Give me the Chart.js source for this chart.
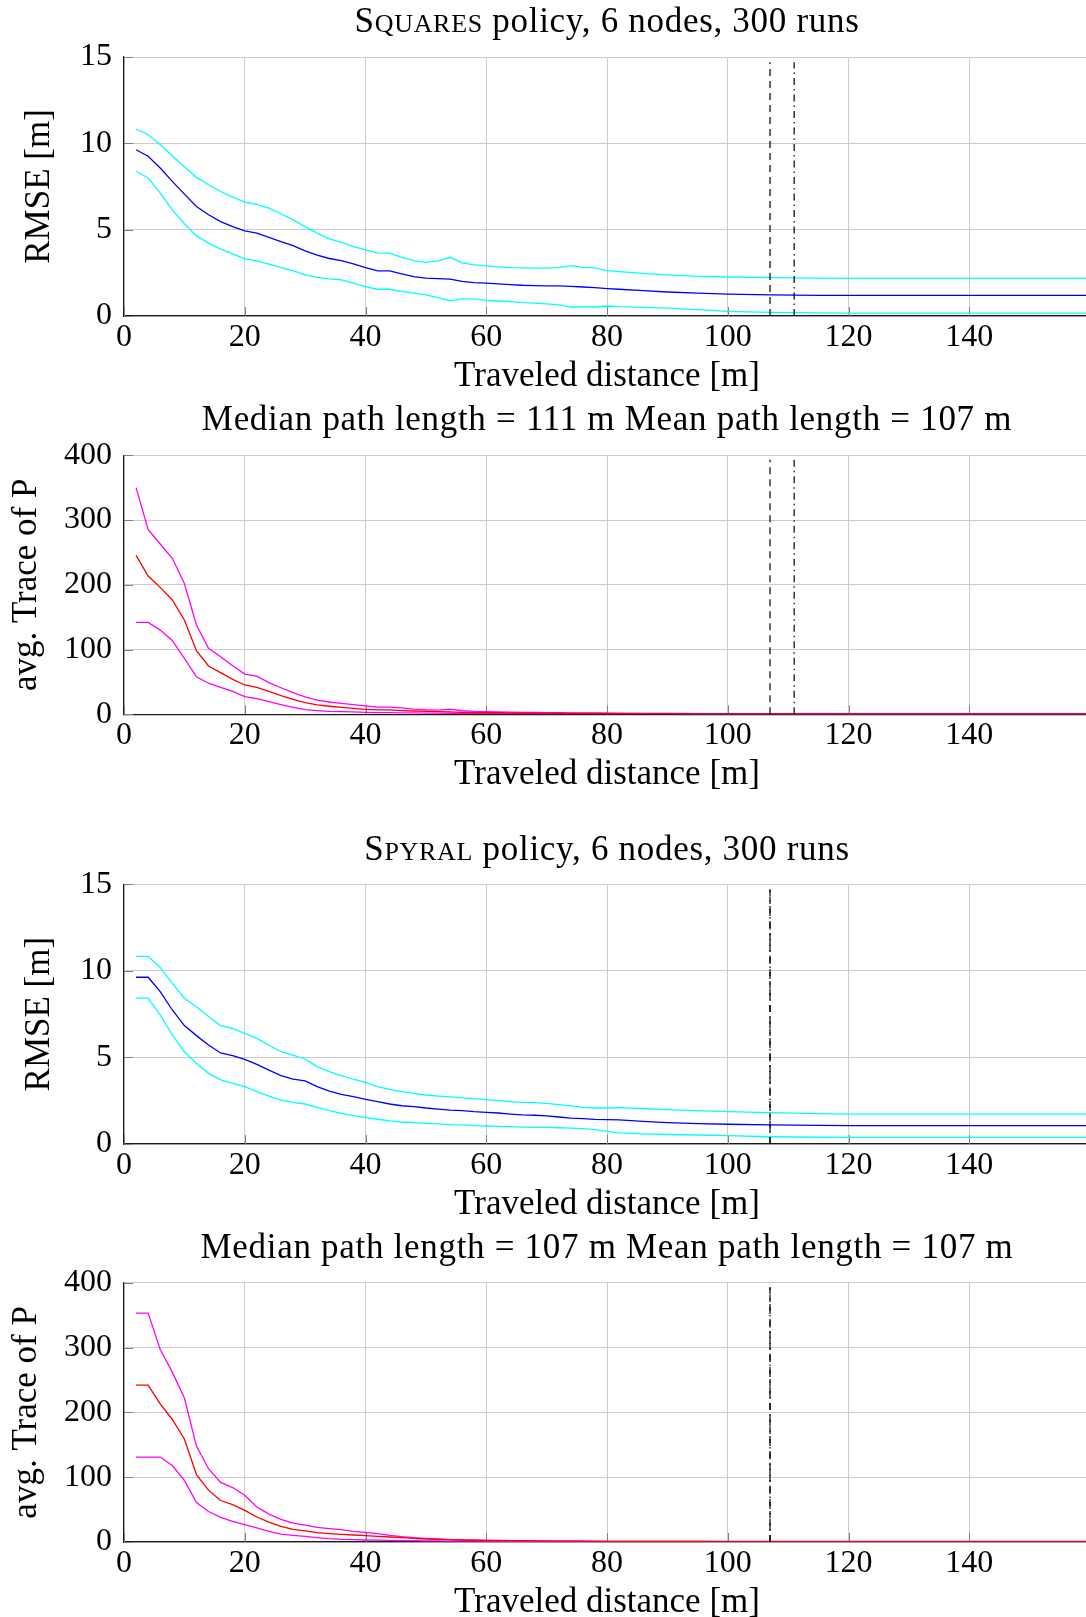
<!DOCTYPE html>
<html>
<head>
<meta charset="utf-8">
<script src="https://cdn.jsdelivr.net/npm/chart.js@4.4.1/dist/chart.umd.min.js"></script>
<style>
  html, body { margin: 0; padding: 0; background: #fff; overflow: hidden; width: 1086px; height: 1617px; }
  .panel { position: absolute; left: 0; width: 1090px; }
</style>
</head>
<body>
<div class="panel" style="top:0px;height:400px"><canvas id="sqRmse" width="1090" height="400"></canvas></div>
<div class="panel" style="top:400px;height:400px"><canvas id="sqTrace" width="1090" height="400"></canvas></div>
<div class="panel" style="top:800px;height:425px"><canvas id="spRmse" width="1090" height="425"></canvas></div>
<div class="panel" style="top:1225px;height:400px"><canvas id="spTrace" width="1090" height="400"></canvas></div>
<script>
// traveled distance [m] (x of every sample)
const distance = [2, 4, 6, 8, 10, 12, 14, 16, 18, 20, 22, 24, 26, 28, 30, 32, 34, 36, 38, 40,
    42, 44, 46, 48, 50, 52, 54, 56, 58, 60, 62, 64, 66, 68, 70, 72, 74, 76, 78, 80, 82,
    86, 90, 95, 100, 107, 115, 120, 140, 160];

const xTicks = [0, 20, 40, 60, 80, 100, 120, 140];
const rmseTicks = [0, 5, 10, 15];
const traceTicks = [0, 100, 200, 300, 400];

// Squares policy
const sqRmseUpper = [10.83, 10.5, 9.92, 9.28, 8.63, 8.03, 7.6, 7.21, 6.89, 6.6,
    6.46, 6.25, 5.92, 5.57, 5.18, 4.8, 4.47, 4.27, 4.02, 3.83,
    3.66, 3.64, 3.4, 3.21, 3.11, 3.19, 3.4, 3.08, 2.96, 2.9,
    2.84, 2.8, 2.79, 2.77, 2.77, 2.8, 2.92, 2.82, 2.79, 2.63, 2.57,
    2.47, 2.38, 2.3, 2.26, 2.22, 2.19, 2.18, 2.18, 2.18];
const sqRmseMean = [9.63, 9.25, 8.57, 7.8, 7.06, 6.34, 5.86, 5.47, 5.18, 4.93,
    4.8, 4.56, 4.31, 4.08, 3.77, 3.52, 3.33, 3.21, 3.02, 2.8,
    2.61, 2.61, 2.44, 2.28, 2.19, 2.17, 2.13, 2.01, 1.93, 1.9,
    1.86, 1.82, 1.78, 1.76, 1.74, 1.74, 1.72, 1.68, 1.64, 1.59, 1.55,
    1.47, 1.39, 1.32, 1.27, 1.22, 1.2, 1.2, 1.2, 1.2];
const sqRmseLower = [8.38, 7.99, 7.12, 6.15, 5.34, 4.64, 4.22, 3.87, 3.6, 3.31,
    3.19, 3.0, 2.8, 2.63, 2.38, 2.24, 2.15, 2.09, 1.9, 1.7,
    1.55, 1.55, 1.43, 1.33, 1.22, 1.06, 0.89, 0.99, 0.99, 0.91,
    0.87, 0.83, 0.77, 0.74, 0.7, 0.64, 0.52, 0.54, 0.52, 0.58, 0.54,
    0.5, 0.46, 0.37, 0.27, 0.21, 0.18, 0.17, 0.17, 0.17];

const sqTraceUpper = [350, 285, 263, 241, 202, 138, 102, 89, 75, 62,
    59, 49, 41, 33.5, 27, 22, 19, 17, 15, 13,
    11, 11, 10, 8, 7, 6.5, 8, 5.5, 4.5, 4,
    3.6, 3.3, 3.0, 2.8, 2.6, 2.4, 2.3, 2.1, 2.0, 1.8, 1.7,
    1.5, 1.3, 1.1, 1.0, 0.9, 0.85, 0.8, 0.8, 0.8];
const sqTraceMean = [245.5, 213.6, 196, 176.6, 145.7, 98.3, 74.6, 64.3, 54, 45.3,
    41.7, 35.5, 28.8, 23.2, 18, 14.4, 12.4, 10.8, 9.3, 7.7,
    6.7, 6.7, 5.7, 5.1, 4.6, 4.1, 3.6, 3.1, 2.6, 2.6,
    2.4, 2.2, 2.0, 1.9, 1.7, 1.6, 1.5, 1.4, 1.3, 1.2, 1.1,
    1.0, 0.9, 0.8, 0.7, 0.6, 0.55, 0.55, 0.55, 0.55];
const sqTraceLower = [142, 142, 130, 114, 86.5, 58, 48, 41.7, 35.5, 27.3,
    24.2, 19.6, 15, 10.8, 7.2, 5.7, 4.6, 4.1, 3.6, 3.1,
    2.7, 2.5, 2.3, 2.1, 1.9, 1.7, 1.6, 1.5, 1.4, 1.3,
    1.2, 1.1, 1.0, 0.9, 0.85, 0.8, 0.75, 0.7, 0.65, 0.6, 0.55,
    0.5, 0.45, 0.4, 0.35, 0.3, 0.3, 0.3, 0.3, 0.3];

// Spyral policy
const spRmseUpper = [10.84, 10.84, 10.2, 9.28, 8.42, 7.93, 7.36, 6.84, 6.68, 6.39,
    6.1, 5.72, 5.33, 5.14, 4.91, 4.47, 4.18, 3.95, 3.74, 3.56,
    3.31, 3.16, 3.02, 2.93, 2.83, 2.77, 2.72, 2.66, 2.62, 2.56,
    2.5, 2.45, 2.41, 2.39, 2.35, 2.27, 2.2, 2.12, 2.08, 2.08, 2.1,
    2.05, 1.99, 1.93, 1.87, 1.81, 1.76, 1.73, 1.73, 1.73];
const spRmseMean = [9.63, 9.63, 8.8, 7.74, 6.84, 6.26, 5.72, 5.26, 5.1, 4.89,
    4.6, 4.27, 3.95, 3.75, 3.64, 3.31, 3.06, 2.87, 2.73, 2.58,
    2.45, 2.31, 2.21, 2.16, 2.08, 2.02, 1.96, 1.93, 1.87, 1.83,
    1.79, 1.73, 1.68, 1.66, 1.62, 1.56, 1.5, 1.46, 1.42, 1.41, 1.39,
    1.31, 1.24, 1.18, 1.14, 1.1, 1.07, 1.06, 1.06, 1.06];
const spRmseLower = [8.42, 8.42, 7.45, 6.3, 5.33, 4.66, 4.08, 3.7, 3.5, 3.31,
    3.02, 2.77, 2.54, 2.41, 2.31, 2.12, 1.93, 1.77, 1.64, 1.54,
    1.43, 1.33, 1.27, 1.23, 1.19, 1.16, 1.12, 1.1, 1.06, 1.04,
    1.02, 1.0, 0.98, 0.96, 0.96, 0.94, 0.92, 0.89, 0.83, 0.73, 0.64,
    0.58, 0.55, 0.52, 0.48, 0.42, 0.39, 0.38, 0.38, 0.38];

const spTraceUpper = [353, 353, 297, 262, 222, 148, 113, 92, 84, 72,
    54, 43, 35, 29, 26, 22.6, 20.6, 19, 16.5, 15,
    12.9, 10.3, 8.2, 6.7, 5.7, 4.6, 3.6, 3.0, 2.6, 2.3,
    2.1, 1.9, 1.8, 1.7, 1.6, 1.5, 1.4, 1.3, 1.2, 1.1, 1.05,
    1.0, 0.95, 0.9, 0.85, 0.8, 0.8, 0.8, 0.8, 0.8];
const spTraceMean = [242, 242, 213, 189, 159, 104, 80, 64, 57.6, 48.8,
    38.6, 30.8, 24, 19.5, 17, 14.4, 12.9, 11.8, 10.8, 9.8,
    8.7, 7.7, 6.7, 5.7, 4.6, 4.1, 3.6, 3.1, 3.1, 2.6,
    2.3, 2.1, 1.9, 1.7, 1.5, 1.4, 1.3, 1.2, 1.1, 1.0, 0.95,
    0.9, 0.85, 0.8, 0.7, 0.6, 0.55, 0.55, 0.55, 0.55];
const spTraceLower = [131, 131, 131, 118, 95, 61, 47, 38, 32, 26.7,
    21.6, 16.5, 12.3, 10.3, 8.7, 6.7, 5.1, 4.1, 3.6, 3.1,
    2.8, 2.5, 2.2, 2.0, 1.8, 1.6, 1.5, 1.4, 1.3, 1.2,
    1.1, 1.0, 0.95, 0.9, 0.85, 0.8, 0.75, 0.7, 0.65, 0.6, 0.55,
    0.5, 0.45, 0.4, 0.35, 0.3, 0.3, 0.3, 0.3, 0.3];

// path lengths [m]: squares, spyral
const medianPath = [111, 107];
const meanPath = [107, 107];
const markerTop = { rmse: 14.7, trace: 393 };

const SERIF = "'Liberation Serif', 'Times New Roman', serif";
Chart.defaults.font.family = SERIF;
Chart.defaults.color = '#000';

const GRID = '#cccccc';
const AXIS = '#1a1a1a';

// small tick marks drawn on the inside of the axes, like pgfplots
const innerTicks = {
    id: 'innerTicks',
    beforeDatasetsDraw(chart) {
        const { ctx, chartArea: a, scales } = chart;
        ctx.save();
        ctx.strokeStyle = '#808080';
        ctx.lineWidth = 1;
        ctx.beginPath();
        scales.x.ticks.forEach(t => {
            const px = Math.round(scales.x.getPixelForValue(t.value)) + 0.5;
            ctx.moveTo(px, a.bottom);
            ctx.lineTo(px, a.bottom - 9);
        });
        scales.y.ticks.forEach(t => {
            const py = Math.round(scales.y.getPixelForValue(t.value)) + 0.5;
            ctx.moveTo(a.left, py);
            ctx.lineTo(a.left + 9, py);
        });
        ctx.stroke();
        ctx.restore();
    }
};

// title with mixed sizes (small caps for the policy name)
const partTitle = {
    id: 'partTitle',
    afterDraw(chart, args, opts) {
        const { ctx, chartArea: a } = chart;
        const parts = opts.parts || [];
        ctx.save();
        ctx.fillStyle = '#000';
        ctx.textBaseline = 'alphabetic';
        ctx.textAlign = 'left';
        if ('letterSpacing' in ctx) ctx.letterSpacing = opts.spacing + 'px';
        let total = 0;
        parts.forEach(p => {
            ctx.font = p.size + 'px ' + SERIF;
            p.w = ctx.measureText(p.text).width;
            total += p.w;
        });
        let x = (a.left + a.right) / 2 - total / 2;
        parts.forEach(p => {
            ctx.font = p.size + 'px ' + SERIF;
            ctx.fillText(p.text, x, opts.baseline);
            x += p.w;
        });
        ctx.restore();
    }
};

function pts(arr) {
    return distance.map((d, i) => ({ x: d, y: arr[i] }));
}

function vline(x, top, dash) {
    return {
        data: [{ x, y: 0 }, { x, y: top }],
        borderColor: '#000',
        borderWidth: 1.2,
        borderDash: dash,
    };
}

function curve(arr, color) {
    return { data: pts(arr), borderColor: color, borderWidth: 1.3 };
}

function makePanel(id, cfg) {
    const H = cfg.height;
    return new Chart(document.getElementById(id), {
        type: 'line',
        data: {
            datasets: [
                vline(cfg.median, cfg.top, [7, 4, 1.5, 4]),
                vline(cfg.mean, cfg.top, [7, 5]),
                curve(cfg.mean_, cfg.meanColor),
                curve(cfg.upper, cfg.boundColor),
                curve(cfg.lower, cfg.boundColor),
            ]
        },
        options: {
            responsive: false,
            animation: false,
            elements: { point: { radius: 0 }, line: { tension: 0, fill: false } },
            layout: { padding: { top: cfg.plotTop, left: 0, right: 0, bottom: 0 } },
            plugins: {
                legend: { display: false },
                tooltip: { enabled: false },
                partTitle: { parts: cfg.title, baseline: cfg.titleBaseline, spacing: 0.7 },
            },
            scales: {
                x: {
                    type: 'linear',
                    min: 0,
                    max: 160,
                    afterBuildTicks: s => { s.ticks = xTicks.map(v => ({ value: v })); },
                    afterFit: s => { s.height = H - cfg.plotBottom; },
                    grid: { color: GRID, lineWidth: 1, drawTicks: false },
                    border: { color: AXIS, width: 1.2 },
                    ticks: { font: { size: 32 }, color: '#000', padding: 2, maxRotation: 0, autoSkip: false },
                    title: {
                        display: true,
                        text: 'Traveled distance [m]',
                        font: { size: 35 },
                        color: '#000',
                        padding: { top: 0, bottom: H - cfg.xTitleMid - 21 },
                    },
                },
                y: {
                    type: 'linear',
                    min: 0,
                    max: cfg.yMax,
                    afterBuildTicks: s => { s.ticks = cfg.yTicks.map(v => ({ value: v })); },
                    afterFit: s => { s.width = 124; },
                    grid: { color: GRID, lineWidth: 1, drawTicks: false },
                    border: { color: AXIS, width: 1.2 },
                    ticks: { font: { size: 32 }, color: '#000', padding: 12 },
                    title: {
                        display: true,
                        text: cfg.yLabel,
                        font: { size: 35 },
                        color: '#000',
                        padding: { top: cfg.yTitleX - 21, bottom: 0 },
                    },
                },
            },
        },
        plugins: [innerTicks, partTitle],
    });
}

makePanel('sqRmse', {
    height: 400, plotTop: 57, plotBottom: 316, titleBaseline: 32, xTitleMid: 376.5,
    title: [{ text: 'S', size: 35 }, { text: 'QUARES', size: 26 }, { text: ' policy, 6 nodes, 300 runs', size: 35 }],
    yMax: 15, yTicks: rmseTicks, yLabel: 'RMSE [m]', yTitleX: 39.5,
    upper: sqRmseUpper, mean_: sqRmseMean, lower: sqRmseLower,
    meanColor: '#0000ff', boundColor: '#00ffff',
    median: medianPath[0], mean: meanPath[0], top: markerTop.rmse,
});

makePanel('sqTrace', {
    height: 400, plotTop: 55.3, plotBottom: 314.3, titleBaseline: 30, xTitleMid: 374.8,
    title: [{ text: 'Median path length = ' + medianPath[0] + ' m Mean path length = ' + meanPath[0] + ' m', size: 35 }],
    yMax: 400, yTicks: traceTicks, yLabel: 'avg. Trace of P', yTitleX: 27,
    upper: sqTraceUpper, mean_: sqTraceMean, lower: sqTraceLower,
    meanColor: '#ff0000', boundColor: '#ff00ff',
    median: medianPath[0], mean: meanPath[0], top: markerTop.trace,
});

makePanel('spRmse', {
    height: 425, plotTop: 84.3, plotBottom: 344, titleBaseline: 60, xTitleMid: 404.5,
    title: [{ text: 'S', size: 35 }, { text: 'PYRAL', size: 26 }, { text: ' policy, 6 nodes, 300 runs', size: 35 }],
    yMax: 15, yTicks: rmseTicks, yLabel: 'RMSE [m]', yTitleX: 39.5,
    upper: spRmseUpper, mean_: spRmseMean, lower: spRmseLower,
    meanColor: '#0000ff', boundColor: '#00ffff',
    median: medianPath[1], mean: meanPath[1], top: markerTop.rmse,
});

makePanel('spTrace', {
    height: 400, plotTop: 57.7, plotBottom: 317, titleBaseline: 33.4, xTitleMid: 377.5,
    title: [{ text: 'Median path length = ' + medianPath[1] + ' m Mean path length = ' + meanPath[1] + ' m', size: 35 }],
    yMax: 400, yTicks: traceTicks, yLabel: 'avg. Trace of P', yTitleX: 27,
    upper: spTraceUpper, mean_: spTraceMean, lower: spTraceLower,
    meanColor: '#ff0000', boundColor: '#ff00ff',
    median: medianPath[1], mean: meanPath[1], top: markerTop.trace,
});
</script>
</body>
</html>
